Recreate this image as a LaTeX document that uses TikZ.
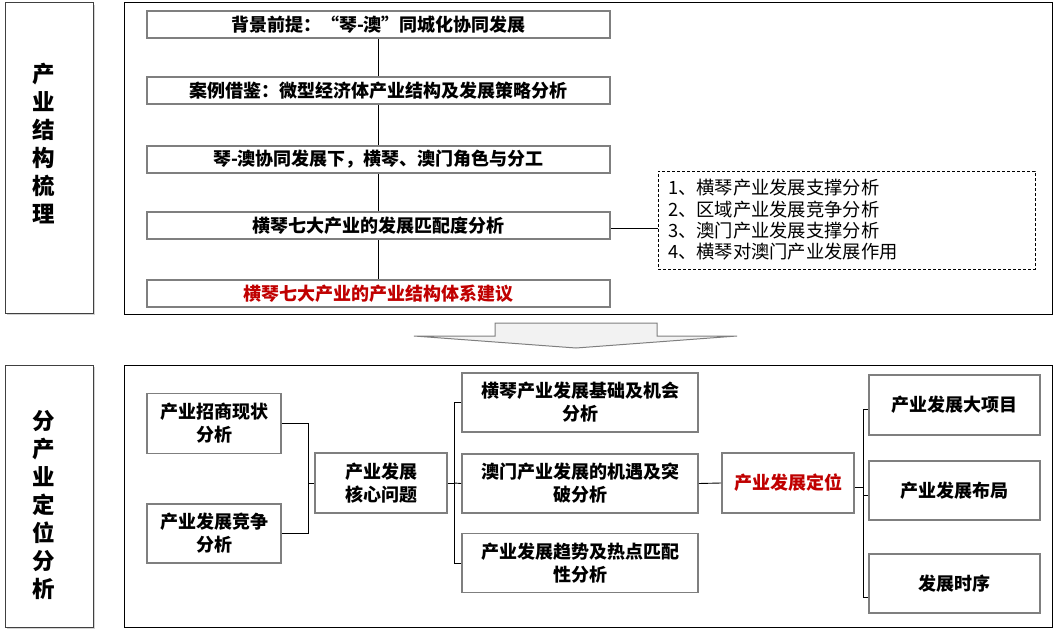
\documentclass[tikz,border=0pt]{standalone}
\usepackage{fontspec}
\newfontfamily\cjk{Noto Sans CJK SC}
\usetikzlibrary{shadows,calc}
\definecolor{boxgray}{HTML}{7F7F7F}
\definecolor{darkred}{HTML}{C00000}
\definecolor{arrowfill}{HTML}{F2F2F2}
\tikzset{
  container/.style={draw=black, line width=1pt},
  labelbox/.style={draw=black!75, line width=1pt, fill=white,
    drop shadow={shadow xshift=2pt, shadow yshift=-2pt, opacity=0.35}},
  labeltext/.style={font=\cjk\bfseries\fontsize{22.5}{28}\selectfont, align=center, inner sep=0pt},
  stagebox/.style={draw=boxgray, line width=1.6pt, fill=white, minimum width=463pt,
    minimum height=27pt, inner sep=0pt, font=\cjk\bfseries\fontsize{18}{20}\selectfont},
  sbox/.style={draw=boxgray, line width=1.6pt, fill=white, inner sep=0pt, align=center,
    font=\cjk\bfseries\fontsize{18}{23}\selectfont},
  conn/.style={draw=black, line width=0.9pt},
  notebox/.style={draw=black, line width=0.8pt, dash pattern=on 3pt off 2pt, inner xsep=10pt,
    inner ysep=0pt, minimum width=377pt, minimum height=98pt, align=left, text width=357pt,
    font=\cjk\fontsize{18.3}{21.3}\selectfont},
}
\begin{document}
\begin{tikzpicture}[x=1pt,y=-1pt]
\useasboundingbox (0,0) rectangle (1058,634);

% left label boxes
\node[labelbox, minimum width=88pt, minimum height=310pt, inner sep=0pt] (lab1) at (49,158) {};
\node[labeltext] (lab1t) at (44,144) {产\\业\\结\\构\\梳\\理};
\node[labelbox, minimum width=88pt, minimum height=262pt, inner sep=0pt] (lab2) at (49,496) {};
\node[labeltext] (lab2t) at (44,505) {分\\产\\业\\定\\位\\分\\析};

% containers
\node[container, minimum width=928pt, minimum height=311pt, inner sep=0pt] (top) at (588,158.5) {};
\node[container, minimum width=928pt, minimum height=262pt, inner sep=0pt] (bot) at (588,496) {};

% top stage boxes
\node[stagebox] (s1) at (378.5,24.5) {背景前提：“琴-澳”同城化协同发展};
\node[stagebox] (s2) at (378.5,90.5) {案例借鉴：微型经济体产业结构及发展策略分析};
\node[stagebox] (s3) at (378.5,159.5) {琴-澳协同发展下，横琴、澳门角色与分工};
\node[stagebox] (s4) at (378.5,225.5) {横琴七大产业的发展匹配度分析};
\node[stagebox, text=darkred] (s5) at (378.5,293.5) {横琴七大产业的产业结构体系建议};
\draw[conn] (s1.south) -- (s2.north);
\draw[conn] (s2.south) -- (s3.north);
\draw[conn] (s3.south) -- (s4.north);
\draw[conn] (s4.south) -- (s5.north);

% note box
\node[notebox] (note) at (846.5,220) {1、横琴产业发展支撑分析\\2、区域产业发展竞争分析\\3、澳门产业发展支撑分析\\4、横琴对澳门产业发展作用};
\draw[conn] (s4.east |- 0,228) -- (note.west |- 0,228);

% block arrow
\coordinate (a1) at (495,323);
\coordinate (a2) at (657,323);
\draw[draw=boxgray, line width=1pt, fill=arrowfill, line join=miter]
  (a1) -- (a2) -- (657,336) -- (737,336) -- (576,348) -- (414,336) -- (495,336) -- cycle;

% bottom section
\node[sbox, minimum width=134pt, minimum height=60pt] (b1) at (214,423.5) {产业招商现状\\分析};
\node[sbox, minimum width=134pt, minimum height=59pt] (b2) at (214,533.5) {产业发展竞争\\分析};
\node[sbox, minimum width=132pt, minimum height=60pt] (core) at (381,483) {产业发展\\核心问题};
\node[sbox, minimum width=236pt, minimum height=59pt] (c1) at (580,402.5) {横琴产业发展基础及机会\\分析};
\node[sbox, minimum width=236pt, minimum height=59pt] (c2) at (580,483.5) {澳门产业发展的机遇及突\\破分析};
\node[sbox, minimum width=236pt, minimum height=59pt] (c3) at (580,563) {产业发展趋势及热点匹配\\性分析};
\node[sbox, minimum width=132pt, minimum height=60pt, text=darkred] (pos) at (788,483) {产业发展定位};
\node[sbox, minimum width=171pt, minimum height=60pt] (r1) at (954.5,405) {产业发展大项目};
\node[sbox, minimum width=171pt, minimum height=59pt] (r2) at (954.5,490.5) {产业发展布局};
\node[sbox, minimum width=171pt, minimum height=59pt] (r3) at (954.5,583.5) {发展时序};

\coordinate (j1) at (308,483);
\draw[conn] (b1.east) -| (j1);
\draw[conn] (b2.east) -| (j1);
\draw[conn] (j1) -- (core.west);

\coordinate (j2) at (454,483);
\draw[conn] (core.east) -- (j2);
\draw[conn] (c1.west) -| (j2);
\draw[conn] (c3.west) -| (j2);
\draw[conn] (j2) -- (c2.west);

\draw[conn] (c2.east) -- (pos.west);

\coordinate (j3) at (863,487);
\draw[conn] (pos.east |- j3) -- (j3);
\draw[conn] ($(r1.west)+(0,4)$) -| (j3);
\draw[conn] ($(r3.west)+(0,14)$) -| (j3);
\draw[conn] ($(r2.west)+(0,4.5)$) -- (j3 |- 0,495);
\end{tikzpicture}
\end{document}
